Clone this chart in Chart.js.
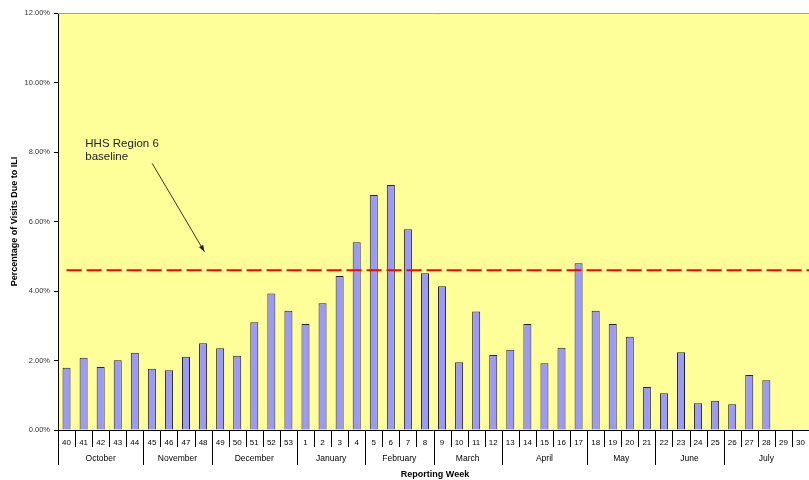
<!DOCTYPE html>
<html>
<head>
<meta charset="utf-8">
<script src="https://cdn.jsdelivr.net/npm/chart.js@4"></script>
<style>
  html, body { margin: 0; padding: 0; background: #fff; }
  #wrap { width: 809px; height: 480px; }
</style>
</head>
<body>
<div id="wrap"><canvas id="iliChart" width="809" height="480"></canvas></div>
<script>
// data
const weeks = ['40','41','42','43','44','45','46','47','48','49','50','51','52','53',
  '1','2','3','4','5','6','7','8','9','10','11','12','13','14','15','16','17',
  '18','19','20','21','22','23','24','25','26','27','28','29','30'];
const iliPct = [1.79, 2.08, 1.81, 2.01, 2.22, 1.76, 1.72, 2.11, 2.50, 2.35, 2.14, 3.10, 3.93, 3.43,
  3.05, 3.65, 4.43, 5.40, 6.76, 7.05, 5.78, 4.51, 4.14, 1.95, 3.41, 2.16, 2.31, 3.05, 1.92, 2.37, 4.80,
  3.43, 3.05, 2.68, 1.24, 1.06, 2.24, 0.77, 0.84, 0.74, 1.58, 1.43, null, null];
const months = ['October','November','December','January','February','March','April','May','June','July'];
const monthWeeks = [5, 4, 5, 4, 4, 4, 5, 4, 4, 5];
const yTicks = [0, 2, 4, 6, 8, 10, 12];
const baseline = 4.6;
const baselineLabel = ['HHS Region 6', 'baseline'];

const FONT = '"Liberation Sans", Arial, sans-serif';

// yellow plot area
const plotBg = {
  id: 'plotBg',
  beforeDraw(chart) {
    const { ctx, chartArea: a } = chart;
    ctx.save();
    ctx.fillStyle = '#FFFF99';
    ctx.fillRect(a.left, a.top, a.right - a.left, a.bottom - a.top);
    ctx.restore();
  }
};

// dashed baseline + note with arrow
const baselinePlugin = {
  id: 'baselinePlugin',
  afterDatasetsDraw(chart) {
    const { ctx, chartArea: a, scales: { x, y } } = chart;
    const yy = y.getPixelForValue(baseline);
    ctx.save();
    ctx.strokeStyle = '#FF0000';
    ctx.lineWidth = 2;
    ctx.setLineDash([15, 5]);
    ctx.beginPath();
    ctx.moveTo(x.getPixelForValue(0), yy);
    ctx.lineTo(a.right, yy);
    ctx.stroke();
    ctx.setLineDash([]);

    // note text
    ctx.fillStyle = '#222';
    ctx.font = '11.5px ' + FONT;
    ctx.textAlign = 'left';
    ctx.textBaseline = 'middle';
    const tx = x.getPixelForValue(1.1);
    ctx.fillText(baselineLabel[0], tx, y.getPixelForValue(8.23));
    ctx.fillText(baselineLabel[1], tx, y.getPixelForValue(7.86));

    // arrow
    const x1 = x.getPixelForValue(5.02), y1 = y.getPixelForValue(7.67);
    const x2 = x.getPixelForValue(8.08), y2 = y.getPixelForValue(5.13);
    ctx.strokeStyle = '#333';
    ctx.lineWidth = 1;
    ctx.beginPath();
    ctx.moveTo(x1, y1);
    ctx.lineTo(x2, y2);
    ctx.stroke();
    const ang = Math.atan2(y2 - y1, x2 - x1);
    ctx.fillStyle = '#222';
    ctx.beginPath();
    ctx.moveTo(x2, y2);
    ctx.lineTo(x2 - 7 * Math.cos(ang - 0.35), y2 - 7 * Math.sin(ang - 0.35));
    ctx.lineTo(x2 - 7 * Math.cos(ang + 0.35), y2 - 7 * Math.sin(ang + 0.35));
    ctx.closePath();
    ctx.fill();
    ctx.restore();
  }
};

// two-level category axis like the spreadsheet one
const weekMonthAxis = {
  id: 'weekMonthAxis',
  afterDraw(chart) {
    const { ctx, chartArea: a, scales: { x } } = chart;
    const half = (x.getPixelForValue(1) - x.getPixelForValue(0)) / 2;
    ctx.save();

    // top border of plot
    ctx.strokeStyle = '#A0A0A0';
    ctx.lineWidth = 1;
    ctx.beginPath();
    ctx.moveTo(a.left, a.top + 0.5);
    ctx.lineTo(a.right, a.top + 0.5);
    ctx.stroke();

    ctx.strokeStyle = '#000';
    ctx.beginPath();
    ctx.moveTo(a.left, a.bottom + 0.5);
    ctx.lineTo(a.right, a.bottom + 0.5);
    ctx.moveTo(a.left + 0.5, a.bottom);
    ctx.lineTo(a.left + 0.5, a.bottom + 35);
    ctx.stroke();

    // week row
    ctx.fillStyle = '#000';
    ctx.font = '8px ' + FONT;
    ctx.textAlign = 'center';
    ctx.textBaseline = 'middle';
    weeks.forEach((w, i) => {
      const cx = x.getPixelForValue(i);
      ctx.fillText(w, cx, a.bottom + 13);
      const sx = Math.round(cx + half) + 0.5;
      ctx.beginPath();
      ctx.moveTo(sx, a.bottom);
      ctx.lineTo(sx, a.bottom + 17);
      ctx.stroke();
    });

    // month row
    ctx.font = '8.5px ' + FONT;
    let start = 0;
    months.forEach((m, k) => {
      const end = start + monthWeeks[k] - 1;
      const l = x.getPixelForValue(start) - half;
      const r = x.getPixelForValue(end) + half;
      ctx.fillText(m, (l + r) / 2, a.bottom + 29);
      const sx = Math.round(r) + 0.5;
      ctx.beginPath();
      ctx.moveTo(sx, a.bottom);
      ctx.lineTo(sx, a.bottom + 35);
      ctx.stroke();
      start = end + 1;
    });

    // axis title
    ctx.font = 'bold 9px ' + FONT;
    ctx.fillText('Reporting Week', 435, a.bottom + 45);
    ctx.restore();
  }
};

const ctx = document.getElementById('iliChart');
new Chart(ctx, {
  type: 'bar',
  data: {
    labels: weeks,
    datasets: [{
      label: 'ILI %',
      data: iliPct,
      backgroundColor: '#9999FF',
      borderColor: '#222',
      borderWidth: 1,
      barPercentage: 0.47,
      categoryPercentage: 1
    }]
  },
  options: {
    responsive: false,
    animation: false,
    layout: { padding: { top: 13, bottom: 50, left: 0, right: 0 } },
    plugins: { legend: { display: false }, tooltip: { enabled: false } },
    scales: {
      x: { display: false, offset: true },
      y: {
        min: 0,
        max: 12,
        afterFit(s) { s.width = 58; },
        afterBuildTicks(s) { s.ticks = yTicks.map(v => ({ value: v })); },
        ticks: {
          callback: v => v.toFixed(2) + '%',
          font: { family: FONT, size: 7.5 },
          color: '#333',
          padding: 4
        },
        grid: { drawOnChartArea: false, tickLength: 4, color: '#000' },
        border: { color: '#000' },
        title: {
          display: true,
          text: 'Percentage of Visits Due to ILI',
          font: { family: FONT, size: 9, weight: 'bold' },
          color: '#000',
          padding: { top: 9, bottom: 4 }
        }
      }
    }
  },
  plugins: [plotBg, baselinePlugin, weekMonthAxis]
});
</script>
</body>
</html>
